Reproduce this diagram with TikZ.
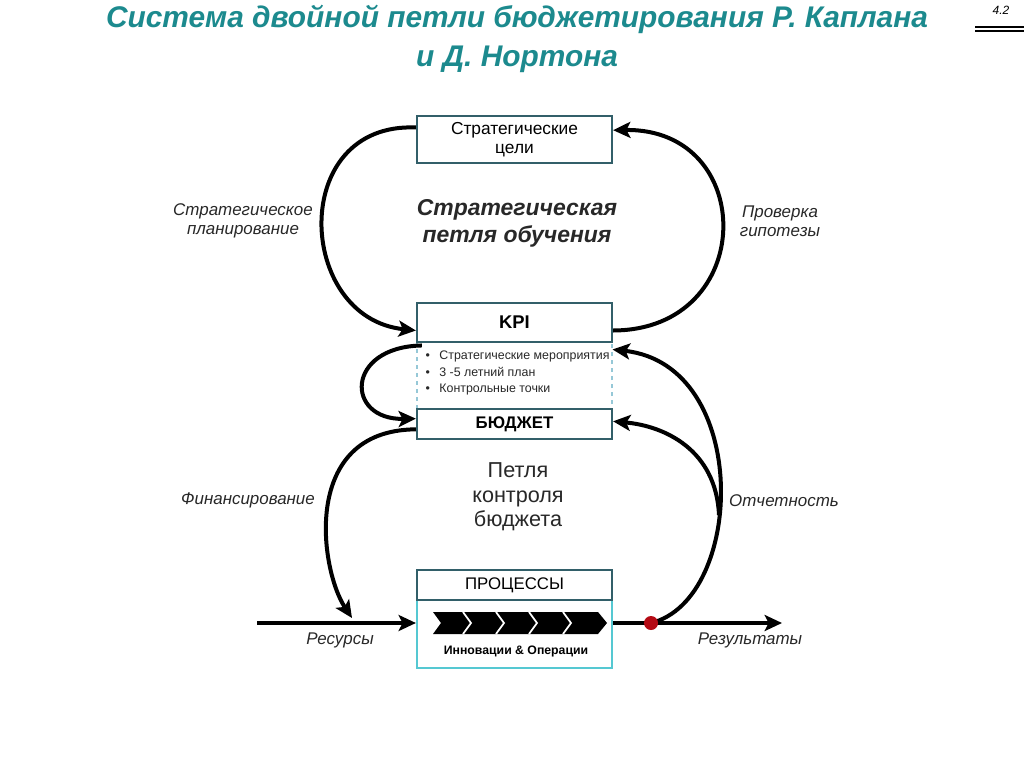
\documentclass[tikz,border=0pt]{standalone}
\usepackage{fontspec}
\setmainfont{Liberation Sans}
\usetikzlibrary{arrows.meta}
\definecolor{titlec}{RGB}{28,138,142}
\definecolor{boxc}{RGB}{50,95,105}
\definecolor{cyanc}{RGB}{85,200,210}
\definecolor{dashc}{RGB}{150,200,215}
\definecolor{dotc}{RGB}{180,10,20}
\definecolor{labc}{RGB}{40,40,40}
\tikzset{
  box/.style={draw=boxc, line width=1.6pt, fill=white, minimum width=195*0.75pt, inner sep=0pt, align=center},
  conn/.style={line width=3pt, -{Stealth[length=13pt,width=12pt,inset=3pt]}},
  lab/.style={font=\fontsize{12.7}{14.3}\selectfont\itshape, text=labc, align=center},
}
\begin{document}
\begin{tikzpicture}[x=0.75pt,y=-0.75pt]
\useasboundingbox[fill=white] (0,0) rectangle (1024,767);

% title
\node[text=titlec, font=\fontsize{22.4}{29.3}\selectfont\bfseries\itshape, align=center] (title) at (517,39)
  {Система двойной петли бюджетирования Р. Каплана\\и Д. Нортона};
\node[font=\fontsize{9}{10}\selectfont\itshape] (num) at (1001,10) {4.2};
\draw[line width=1.2pt] (975,27) -- (1024,27);
\draw[line width=1.2pt] (975,31) -- (1024,31);

% boxes
\node[box, minimum height=47*0.75pt, font=\fontsize{13}{14.3}\selectfont] (goals) at (514.5,139.5) {Стратегические\\цели};
\node[draw=dashc, dashed, line width=0.8pt, minimum width=195*0.75pt, minimum height=67*0.75pt, inner sep=0pt] (plan) at (514.5,375.5) {};
\node[box, minimum height=39*0.75pt, font=\fontsize{13.8}{15}\selectfont\bfseries] (kpi) at (514.5,322.5) {KPI};
\node[box, minimum height=30*0.75pt, font=\fontsize{12.6}{14}\selectfont\bfseries] (budget) at (514.5,424) {БЮДЖЕТ};
\node[font=\fontsize{9.3}{12.5}\selectfont, align=left, anchor=west, text=labc] (planlist) at (421,373)
  {\textbullet\hspace{7pt}Стратегические мероприятия\\
   \textbullet\hspace{7pt}3 -5 летний план\\
   \textbullet\hspace{7pt}Контрольные точки};

\node[draw=cyanc, line width=1.6pt, fill=white, minimum width=195*0.75pt, minimum height=68*0.75pt, inner sep=0pt] (procbody) at (514.5,634) {};
\node[box, minimum height=30*0.75pt, font=\fontsize{12.6}{14}\selectfont] (proc) at (514.5,585) {ПРОЦЕССЫ};
% chevron band
\fill[black] (433,612) -- (598,612) -- (607,623) -- (598,634) -- (433,634) -- (441,623) -- cycle;
\foreach \cx in {467,500,533,567}
  \draw[white, line width=1.3pt] (\cx-4,612) -- (\cx+4,623) -- (\cx-4,634);
\node[font=\fontsize{9.2}{10}\selectfont\bfseries] (innov) at (516,651) {Инновации \& Операции};

% loop labels
\node[font=\fontsize{17.2}{20.3}\selectfont\bfseries\itshape, text=labc, align=center] (stratloop) at (517,223) {Стратегическая\\петля обучения};
\node[font=\fontsize{16.2}{18.4}\selectfont, text=labc, align=center] (budloop) at (518,497) {Петля\\контроля\\бюджета};

\node[lab] (lplan) at (243,221) {Стратегическое\\планирование};
\node[lab] (lhyp) at (780,221) {Проверка\\гипотезы};
\node[lab] (lfin) at (248,500) {Финансирование};
\node[lab] (lrep) at (784,501) {Отчетность};
\node[lab] (lres) at (340,640) {Ресурсы};
\node[lab] (lout) at (750,640) {Результаты};

% coordinates for free ends
\coordinate (resstart) at (257,623);
\coordinate (outend) at (782,623);
\coordinate (dot) at (651,623);

% strategic planning
\draw[conn] ([yshift=9pt]goals.west) .. controls (288,122) and (296,318) .. ([yshift=-6pt]kpi.west);
% hypothesis test
\draw[conn] ([yshift=-6pt]kpi.east) .. controls (758,330) and (758,128) .. ([yshift=7pt]goals.east);
% small loop
\draw[conn] ([xshift=4pt,yshift=-3pt]plan.north west) .. controls (345,347) and (345,420) .. ([yshift=4pt]budget.west);
% financing
\draw[conn] ([yshift=-4pt]budget.west) .. controls (300,430) and (320,570) .. (352,618);
% resources and results
\draw[conn] (resstart) -- (procbody.west |- resstart);
\draw[conn] (procbody.east |- outend) -- (outend);
% reporting
\draw[conn] (dot) .. controls (745,600) and (752,365) .. ([yshift=-6pt]plan.north east);
\coordinate (branch) at (719,515);
\draw[conn] (branch) .. controls (716,450) and (665,426) .. ([yshift=2pt]budget.east);
\fill[dotc] (dot) circle (7);
\end{tikzpicture}
\end{document}
